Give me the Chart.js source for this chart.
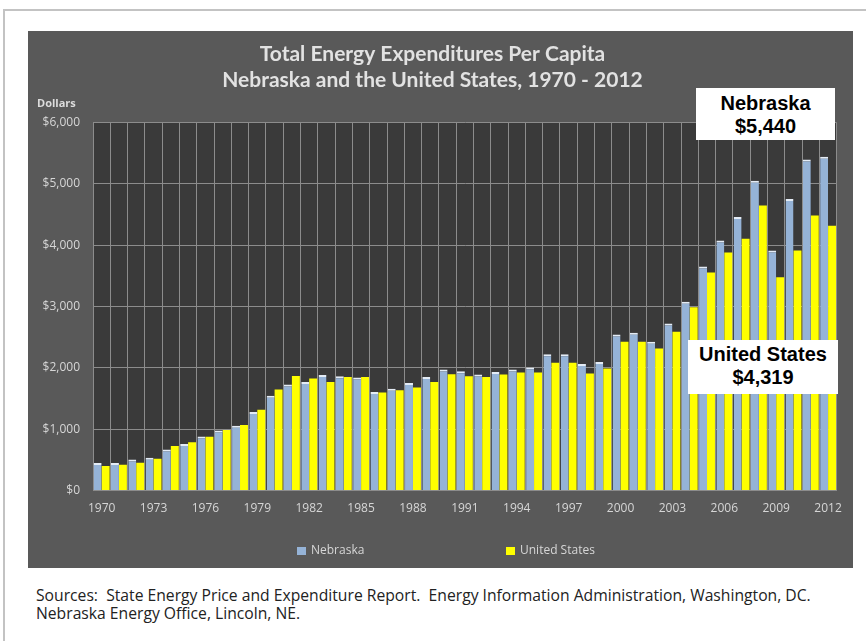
<!DOCTYPE html>
<html>
<head>
<meta charset="utf-8">
<script src="https://cdn.jsdelivr.net/npm/chart.js@4"></script>
<style>
  body { margin: 0; background: #fff; width: 866px; height: 641px; overflow: hidden; position: relative; }
  #frame { position: absolute; left: 3px; top: 9px; width: 900px; height: 700px; border-left: 2px solid #c3c3c3; border-top: 2px solid #c3c3c3; }
  #panel { position: absolute; left: 28px; top: 31px; width: 825px; height: 537px; background: #595959; }
  #dollars { position: absolute; left: 37px; top: 95px; color: #dcdcdc; font: bold 11px "Open Sans", sans-serif; }
  .note { position: absolute; background: #fff; color: #000; font: bold 20px "Liberation Sans", Arial, sans-serif; text-align: center; line-height: 23px; box-sizing: border-box; }
  #sources { position: absolute; left: 36px; top: 586px; color: #222; font: 15.7px "Open Sans", sans-serif; line-height: 18px; white-space: pre; }
</style>
</head>
<body>
<div id="frame"></div>
<div id="panel"><canvas id="energy_chart" width="825" height="537"></canvas></div>
<div id="dollars">Dollars</div>
<div class="note" style="left:696px; top:88px; width:139px; height:52px; padding-top:4px;">Nebraska<br>$5,440</div>
<div class="note" style="left:688px; top:340px; width:150px; height:54px; padding-top:3px;">United States<br>$4,319</div>
<div id="sources">Sources:  State Energy Price and Expenditure Report.  Energy Information Administration, Washington, DC.
Nebraska Energy Office, Lincoln, NE.</div>
<script>
// Years 1970 - 2012
var years = [];
for (var y = 1970; y <= 2012; y++) years.push(String(y));

// Per capita expenditures, dollars
var nebraska = [450, 450, 505, 535, 670, 760, 880, 978, 1058, 1280,
                1545, 1730, 1770, 1885, 1862, 1845, 1608, 1662, 1755, 1853,
                1973, 1946, 1891, 1935, 1973, 2006, 2224, 2224, 2065, 2098,
                2545, 2572, 2425, 2725, 3079, 3651, 4076, 4458, 5052, 3913,
                4752, 5396, 5440];
var unitedStates = [400, 420, 452, 518, 725, 790, 877, 986, 1068, 1319,
                    1646, 1869, 1826, 1771, 1850, 1853, 1597, 1635, 1679, 1771,
                    1897, 1864, 1853, 1891, 1924, 1924, 2082, 2082, 1908, 1990,
                    2425, 2425, 2316, 2589, 2987, 3553, 3880, 4104, 4648, 3477,
                    3913, 4485, 4319];

var tickFont = { family: '"Open Sans", sans-serif', size: 12 };
var tickColor = '#d6d6d6';
var gridColor = '#8c8c8c';

// dark plot area behind the bars
var plotBackground = {
    id: 'plotBackground',
    beforeDraw: function(chart) {
        var a = chart.chartArea;
        chart.ctx.save();
        chart.ctx.fillStyle = '#3a3a3a';
        chart.ctx.fillRect(a.left, a.top, a.right - a.left, a.bottom - a.top);
        chart.ctx.restore();
    }
};

// Excel-style legend with wide spacing between items
var spacedLegend = {
    id: 'spacedLegend',
    afterDraw: function(chart) {
        var ctx = chart.ctx;
        var xs = [269, 478];
        var yMid = 520;
        ctx.save();
        ctx.font = '12px "Open Sans", sans-serif';
        ctx.textBaseline = 'middle';
        chart.data.datasets.forEach(function(ds, i) {
            ctx.fillStyle = ds.backgroundColor;
            ctx.fillRect(xs[i], yMid - 4, 9, 8);
            ctx.fillStyle = tickColor;
            ctx.fillText(ds.label, xs[i] + 14, yMid);
        });
        ctx.restore();
    }
};

var chart = new Chart(document.getElementById('energy_chart').getContext('2d'), {
    type: 'bar',
    data: {
        labels: years,
        datasets: [{
            label: 'Nebraska',
            data: nebraska,
            backgroundColor: '#95b3d7',
            borderColor: '#e4ecf6',
            borderWidth: { top: 2, left: 0, right: 0, bottom: 0 },
            borderSkipped: 'bottom',
            barPercentage: 1.0,
            categoryPercentage: 0.92
        }, {
            label: 'United States',
            data: unitedStates,
            backgroundColor: '#ffff00',
            barPercentage: 1.0,
            categoryPercentage: 0.92
        }]
    },
    options: {
        responsive: false,
        animation: false,
        layout: { padding: { left: 0, right: 16, top: 0, bottom: 41 } },
        plugins: {
            legend: { display: false },
            tooltip: { enabled: false },
            title: {
                display: true,
                text: ['Total Energy Expenditures Per Capita', 'Nebraska and the United States, 1970 - 2012'],
                color: '#e2e2e2',
                font: { family: 'Lato, sans-serif', size: 21, weight: 'bold', lineHeight: 1.25 },
                padding: { top: 10, bottom: 29 }
            }
        },
        scales: {
            x: {
                offset: true,
                grid: { offset: true, color: gridColor, drawTicks: false },
                border: { color: gridColor },
                ticks: {
                    color: tickColor,
                    font: tickFont,
                    padding: 11,
                    autoSkip: false,
                    maxRotation: 0,
                    callback: function(value, index) {
                        return index % 3 === 0 ? this.getLabelForValue(value) : '';
                    }
                }
            },
            y: {
                min: 0,
                max: 6000,
                grid: { color: gridColor, drawTicks: false },
                border: { color: gridColor },
                afterFit: function(scale) { scale.width = 65; },
                ticks: {
                    stepSize: 1000,
                    color: tickColor,
                    font: tickFont,
                    padding: 13,
                    callback: function(value) {
                        return '$' + value.toLocaleString('en-US');
                    }
                }
            }
        }
    },
    plugins: [plotBackground, spacedLegend]
});
</script>
</body>
</html>
